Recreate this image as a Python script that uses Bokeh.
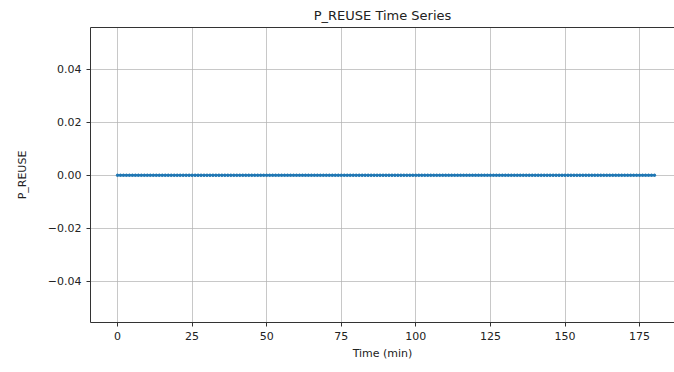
from bokeh.plotting import figure
from bokeh.models import FixedTicker, CustomJSTickFormatter, Range1d, LinearAxis
from bokeh.embed import file_html
from bokeh.resources import INLINE

# Data
time_min = list(range(0, 181))
p_reuse = [0.0] * len(time_min)
x_ticks = [0, 25, 50, 75, 100, 125, 150, 175]
y_ticks = [-0.04, -0.02, 0.0, 0.02, 0.04]

FONT = "DejaVu Sans"
AX = "#333333"

p = figure(width=674, height=372, output_backend="svg", toolbar_location=None,
           x_range=Range1d(-9.05, 186.7), y_range=Range1d(-0.0556, 0.0558),
           min_border_left=90, min_border_right=0, min_border_top=26, min_border_bottom=50)
p.title.text = "P_REUSE Time Series"
p.title.text_font = FONT
p.title.text_font_size = "13px"
p.title.text_font_style = "normal"
p.title.align = "center"
p.title.offset = 4
p.title.text_color = "#222222"
p.outline_line_color = None
p.background_fill_color = "white"
p.border_fill_color = "white"

# Data line
p.line(time_min, p_reuse, line_color="#1f77b4", line_width=2)
p.scatter(time_min, p_reuse, size=2.5, color="#1f77b4")

for ax in (p.xaxis[0], p.yaxis[0]):
    ax.major_label_text_font = FONT
    ax.major_label_text_font_size = "11px"
    ax.major_label_text_color = "#222222"
    ax.axis_label_text_font = FONT
    ax.axis_label_text_font_size = "11px"
    ax.axis_label_text_font_style = "normal"
    ax.axis_label_text_color = "#222222"
    ax.axis_line_color = AX
    ax.axis_line_width = 1
    ax.major_tick_line_color = AX
    ax.major_tick_in = 0
    ax.major_tick_out = 4
    ax.minor_tick_line_color = None
    ax.major_label_standoff = 5

p.xaxis[0].ticker = FixedTicker(ticks=x_ticks)
p.xaxis[0].axis_label = "Time (min)"
p.xaxis[0].axis_label_standoff = 4
p.yaxis[0].ticker = FixedTicker(ticks=y_ticks)
p.yaxis[0].axis_label = "P_REUSE"
p.yaxis[0].axis_label_standoff = 16
p.yaxis[0].formatter = CustomJSTickFormatter(
    code="var s = tick.toFixed(2); if (s === '-0.00') { s = '0.00'; } return s.replace('-', '\u2212');")

# Top spine
top = LinearAxis(ticker=FixedTicker(ticks=[]), major_label_text_font_size="0px",
                 axis_line_color=AX, axis_line_width=1, major_tick_line_color=None,
                 minor_tick_line_color=None)
p.add_layout(top, "above")

p.xgrid.ticker = FixedTicker(ticks=x_ticks)
p.ygrid.ticker = FixedTicker(ticks=y_ticks)
p.grid.grid_line_color = "#b0b0b0"
p.grid.grid_line_width = 1
p.grid.grid_line_alpha = 0.7

open("out.html", "w").write(file_html(p, INLINE))
